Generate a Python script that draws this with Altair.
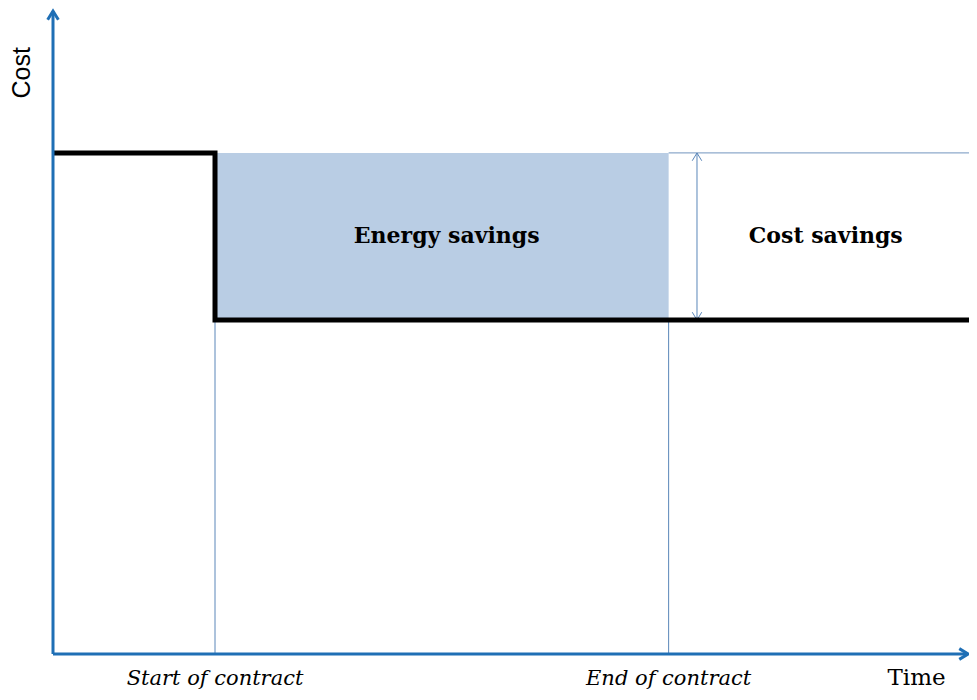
import altair as alt
import pandas as pd

# ---- schematic values (time in contract units, cost in relative units) ----
t_origin = 0.0
t_start = 1.0          # start of contract
t_end = 3.8            # end of contract
t_axis_end = 5.648     # end of the time axis
cost_before = 3.0
cost_after = 2.0
cost_axis_end = 3.85
t_arrow = 3.975        # position of the savings arrow

x_domain = [-0.2778, 5.654]
y_domain = [-0.2275, 3.868]

# step line of cost
step_t = [t_origin, t_start, t_start, t_axis_end + 0.01]
step_cost = [cost_before, cost_before, cost_after, cost_after]

italic_labels = ["Start of contract", "End of contract"]
italic_t = [t_start, t_end]
time_label = "Time"
time_t = 5.33
label_cost = -0.183

area_labels = ["Energy savings", "Cost savings"]
area_t = [(t_start + t_end) / 2 + 0.03, 4.77]
area_cost = [(cost_before + cost_after) / 2, (cost_before + cost_after) / 2]

AXIS_BLUE = "#1f6fb5"
THIN_BLUE = "#5a86b9"
FILL_BLUE = "#b9cde4"

xs = alt.Scale(domain=x_domain, nice=False, zero=False)
ys = alt.Scale(domain=y_domain, nice=False, zero=False)
X = lambda f: alt.X(f, type="quantitative", scale=xs, axis=None)
Y = lambda f: alt.Y(f, type="quantitative", scale=ys, axis=None)

shade = alt.Chart(pd.DataFrame({"x": [t_start], "x2": [t_end], "y": [cost_after], "y2": [cost_before]})).mark_rect(
    color=FILL_BLUE).encode(x=X("x"), x2="x2", y=Y("y"), y2="y2")

vlines = alt.Chart(pd.DataFrame({"x": [t_start, t_end], "y": [0, 0], "y2": [cost_after, cost_after]})).mark_rule(
    color=THIN_BLUE, strokeWidth=1).encode(x=X("x"), y=Y("y"), y2="y2")

hline = alt.Chart(pd.DataFrame({"x": [t_end], "x2": [t_axis_end + 0.01], "y": [cost_before]})).mark_rule(
    color="#8eaacb", strokeWidth=1.2).encode(x=X("x"), x2="x2", y=Y("y"))

arrow_shaft = alt.Chart(pd.DataFrame({"x": [t_arrow], "y": [cost_after], "y2": [cost_before]})).mark_rule(
    color=THIN_BLUE, strokeWidth=1).encode(x=X("x"), y=Y("y"), y2="y2")

chev = "M -0.55 0.9 L 0 0 L 0.55 0.9"
arrow_heads = alt.Chart(pd.DataFrame({"x": [t_arrow, t_arrow], "y": [cost_before, cost_after], "a": [0, 180]})).mark_point(
    shape=chev, size=300, filled=False, color=THIN_BLUE, strokeWidth=1, opacity=1).encode(
    x=X("x"), y=Y("y"), angle=alt.Angle("a:Q", scale=None))

step = alt.Chart(pd.DataFrame({"x": step_t, "y": step_cost, "o": list(range(len(step_t)))})).mark_line(
    color="black", strokeWidth=5, strokeJoin="miter", strokeCap="butt").encode(
    x=X("x"), y=Y("y"), order="o:Q")

axes = alt.Chart(pd.DataFrame({"x": [t_origin, t_origin], "x2": [t_axis_end, t_origin],
                               "y": [0, 0], "y2": [0, cost_axis_end]})).mark_rule(
    color=AXIS_BLUE, strokeWidth=3).encode(x=X("x"), x2="x2", y=Y("y"), y2="y2")

axis_heads = alt.Chart(pd.DataFrame({"x": [t_axis_end, t_origin], "y": [0, cost_axis_end], "a": [90, 0]})).mark_point(
    shape=chev, size=380, filled=False, color=AXIS_BLUE, strokeWidth=3, opacity=1).encode(
    x=X("x"), y=Y("y"), angle=alt.Angle("a:Q", scale=None))

labels_it = alt.Chart(pd.DataFrame({"x": italic_t, "y": [label_cost] * 2, "t": italic_labels})).mark_text(
    font="DejaVu Serif", fontSize=21, fontStyle="italic", color="black", baseline="alphabetic", align="center").encode(
    x=X("x"), y=Y("y"), text="t:N")

label_time = alt.Chart(pd.DataFrame({"x": [time_t], "y": [label_cost], "t": [time_label]})).mark_text(
    font="DejaVu Serif", fontSize=23, color="black", baseline="alphabetic", align="center").encode(
    x=X("x"), y=Y("y"), text="t:N")

area_text = alt.Chart(pd.DataFrame({"x": area_t, "y": area_cost, "t": area_labels})).mark_text(
    font="DejaVu Serif", fontSize=22, fontWeight="bold", color="black", baseline="middle", align="center").encode(
    x=X("x"), y=Y("y"), text="t:N")

cost_label = alt.Chart(pd.DataFrame({"x": [-0.19], "y": [3.48], "t": ["Cost"]})).mark_text(
    font="Liberation Sans", fontSize=25, color="black", angle=270, baseline="middle", align="center").encode(
    x=X("x"), y=Y("y"), text="t:N")

chart = alt.layer(shade, vlines, hline, arrow_shaft, arrow_heads, step, axes, axis_heads,
                  labels_it, label_time, area_text, cost_label).properties(
    width=961, height=684, padding=0, background="white", autosize=alt.AutoSizeParams(type="none")
).configure_view(stroke=None)

chart.save("out.html", embed_options={"renderer": "svg", "actions": False})
